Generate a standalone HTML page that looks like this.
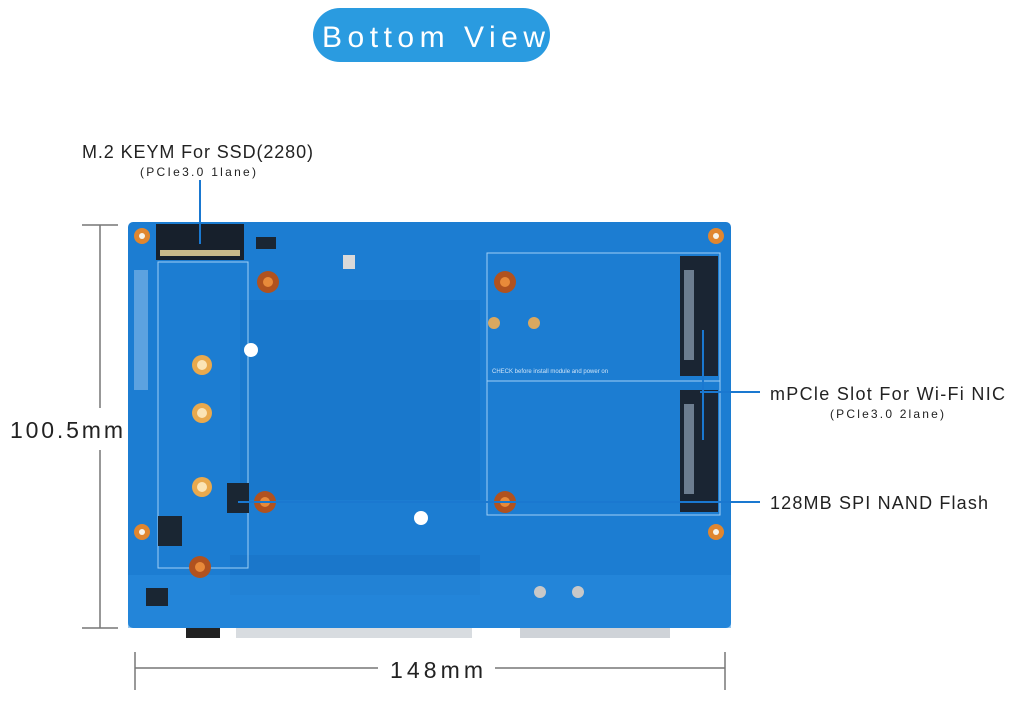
<!DOCTYPE html>
<html><head><meta charset="utf-8"><style>
body{margin:0;background:#fff;width:1009px;height:700px;overflow:hidden;font-family:"Liberation Sans",sans-serif}
</style></head><body>
<svg width="1009" height="700" viewBox="0 0 1009 700" xmlns="http://www.w3.org/2000/svg" font-family="Liberation Sans, sans-serif">
<rect x="313" y="8" width="237" height="54" rx="27" fill="#2a9be0"/>
<text x="322" y="47" fill="#fff" font-size="30" textLength="223" lengthAdjust="spacing">Bottom View</text>
<rect x="236" y="622" width="236" height="16" fill="#d8dce0"/>
<rect x="186" y="620" width="34" height="18" fill="#222"/>
<rect x="520" y="624" width="150" height="14" fill="#cfd3d8"/>
<rect x="128" y="222" width="603" height="406" rx="5" fill="#1c7dd2"/>
<rect x="240" y="300" width="240" height="200" fill="#1874c8" opacity="0.6"/>
<rect x="230" y="555" width="250" height="40" fill="#1a75c8" opacity="0.7"/>
<rect x="128" y="575" width="603" height="53" fill="#2a8ee0" opacity="0.5"/>
<rect x="134" y="270" width="14" height="120" fill="#9cc7ee" opacity="0.5"/>
<rect x="156" y="224" width="88" height="36" fill="#17202c"/>
<rect x="160" y="250" width="80" height="6" fill="#c9b98a"/>
<rect x="158" y="262" width="90" height="306" fill="none" stroke="#9fd0f5" stroke-width="1"/>
<rect x="487" y="253" width="233" height="262" fill="none" stroke="#9fd0f5" stroke-width="1"/>
<line x1="487" y1="381" x2="720" y2="381" stroke="#9fd0f5"/>
<rect x="680" y="256" width="38" height="120" fill="#1a2533"/>
<rect x="680" y="390" width="38" height="122" fill="#1a2533"/>
<rect x="684" y="270" width="10" height="90" fill="#6c7d90"/>
<rect x="684" y="404" width="10" height="90" fill="#6c7d90"/>
<text x="492" y="373" fill="#cfe4f7" font-size="6">CHECK before install module and power on</text>
<g fill="#e0862f"><circle cx="142" cy="236" r="8"/><circle cx="716" cy="236" r="8"/><circle cx="142" cy="532" r="8"/><circle cx="716" cy="532" r="8"/></g>
<g fill="#f6f3ea"><circle cx="142" cy="236" r="3"/><circle cx="716" cy="236" r="3"/><circle cx="142" cy="532" r="3"/><circle cx="716" cy="532" r="3"/></g>
<g fill="#e9a94d"><circle cx="202" cy="365" r="10"/><circle cx="202" cy="413" r="10"/><circle cx="202" cy="487" r="10"/></g>
<g fill="#fbe4b5"><circle cx="202" cy="365" r="5"/><circle cx="202" cy="413" r="5"/><circle cx="202" cy="487" r="5"/></g>
<g fill="#b0521f"><circle cx="268" cy="282" r="11"/><circle cx="505" cy="282" r="11"/><circle cx="265" cy="502" r="11"/><circle cx="505" cy="502" r="11"/><circle cx="200" cy="567" r="11"/></g>
<g fill="#e88a3a"><circle cx="268" cy="282" r="5"/><circle cx="505" cy="282" r="5"/><circle cx="265" cy="502" r="5"/><circle cx="505" cy="502" r="5"/><circle cx="200" cy="567" r="5"/></g>
<g fill="#d9a860"><circle cx="494" cy="323" r="6"/><circle cx="534" cy="323" r="6"/></g>
<g fill="#fff"><circle cx="251" cy="350" r="7"/><circle cx="421" cy="518" r="7"/></g>
<rect x="227" y="483" width="22" height="30" fill="#1a2633"/>
<rect x="158" y="516" width="24" height="30" fill="#1a2633"/>
<rect x="256" y="237" width="20" height="12" fill="#1a2633"/>
<rect x="146" y="588" width="22" height="18" fill="#1a2633"/>
<rect x="343" y="255" width="12" height="14" fill="#d9d9d9"/>
<g fill="#c8c8c8"><circle cx="540" cy="592" r="6"/><circle cx="578" cy="592" r="6"/></g>
<g stroke="#1a78d0" stroke-width="2" fill="none">
<line x1="200" y1="180" x2="200" y2="244"/>
<line x1="700" y1="392" x2="760" y2="392"/>
<line x1="703" y1="330" x2="703" y2="440"/>
<line x1="238" y1="502" x2="760" y2="502"/>
</g>
<g stroke="#777" stroke-width="1.5">
<line x1="100" y1="225" x2="100" y2="408"/><line x1="100" y1="450" x2="100" y2="628"/>
<line x1="82" y1="225" x2="118" y2="225"/><line x1="82" y1="628" x2="118" y2="628"/>
<line x1="135" y1="668" x2="378" y2="668"/><line x1="495" y1="668" x2="725" y2="668"/>
<line x1="135" y1="652" x2="135" y2="690"/><line x1="725" y1="652" x2="725" y2="690"/>
</g>
<text x="10" y="438" font-size="23" fill="#222" textLength="113">100.5mm</text>
<text x="390" y="678" font-size="23" fill="#222" textLength="93">148mm</text>
<text x="82" y="158" font-size="18" fill="#222" textLength="231">M.2 KEYM For SSD(2280)</text>
<text x="140" y="176" font-size="12" fill="#222" textLength="116">(PCIe3.0 1lane)</text>
<text x="770" y="400" font-size="18" fill="#222" textLength="235">mPCle Slot For Wi-Fi NIC</text>
<text x="830" y="418" font-size="12" fill="#222" textLength="114">(PCle3.0 2lane)</text>
<text x="770" y="509" font-size="18" fill="#222" textLength="218">128MB SPI NAND Flash</text>
</svg>
</body></html>
